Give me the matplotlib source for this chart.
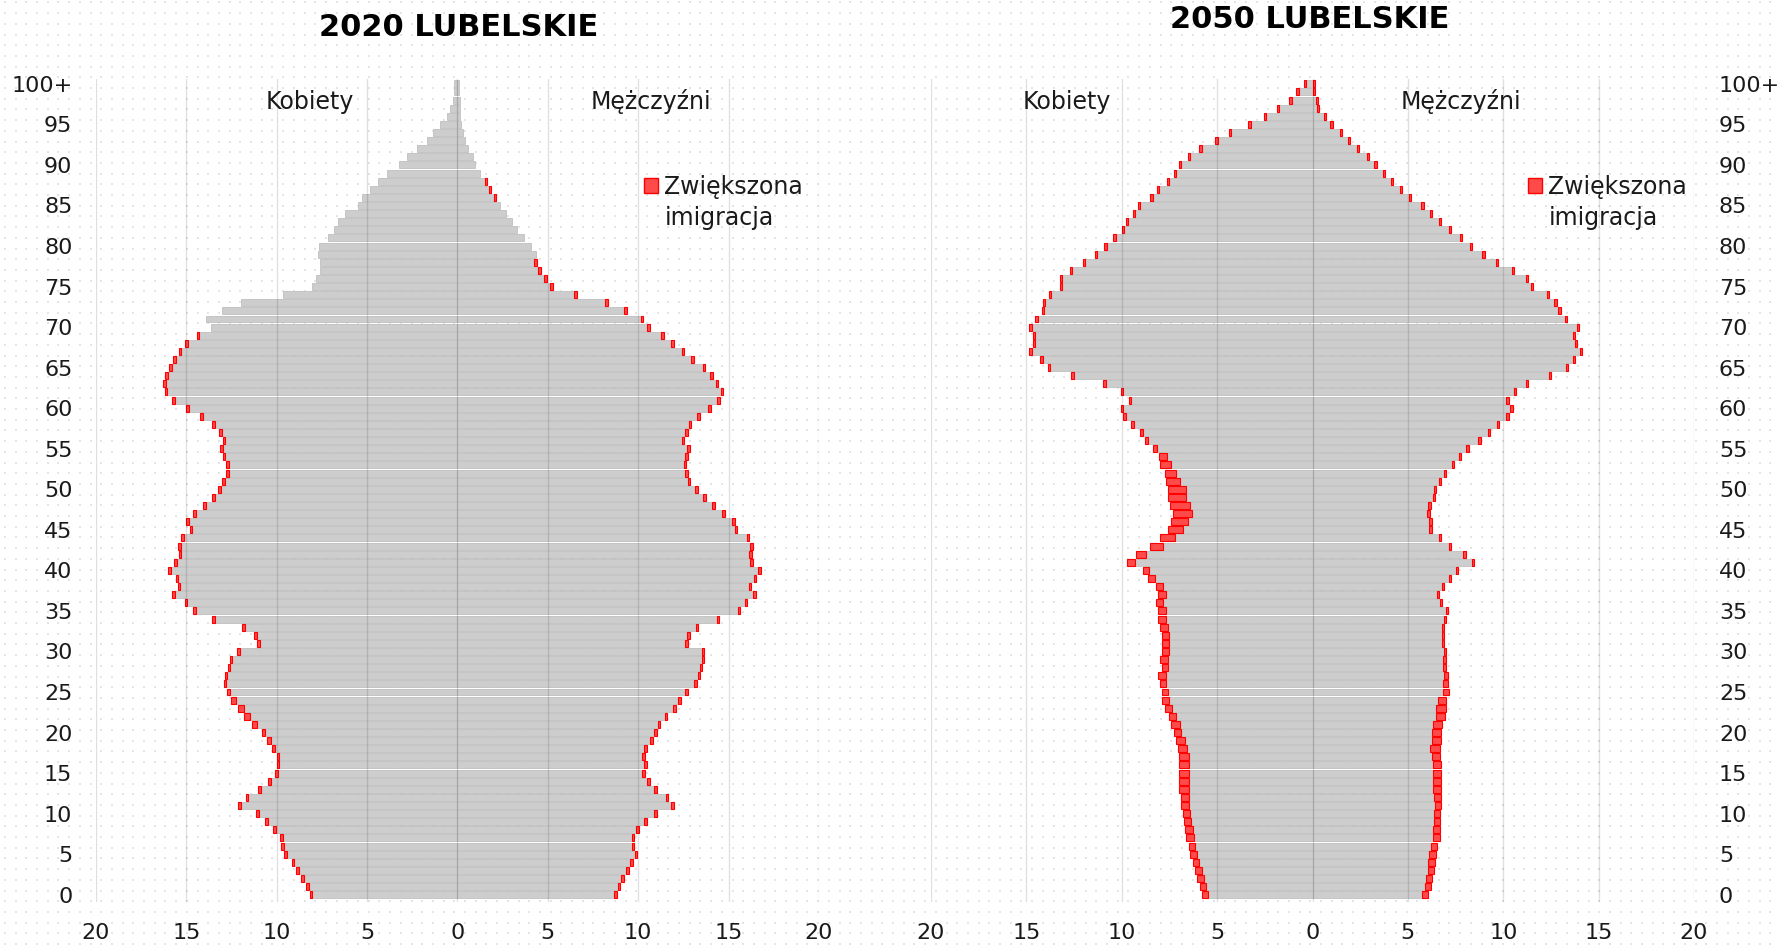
"""
Lubelskie population pyramids, 2020 vs 2050, with the extra
"increased immigration" scenario stacked in red on top of the base bars.
"""

import matplotlib.pyplot as plt
import numpy as np
from matplotlib.patches import Patch

# ─── Data ─────────────────────────────────────────────────────────────────────
AGES = list(range(101))
AGE_TICKS = [0, 5, 10, 15, 20, 25, 30, 35, 40, 45, 50,
             55, 60, 65, 70, 75, 80, 85, 90, 95, 100]
AGE_LABELS = ["0", "5", "10", "15", "20", "25", "30", "35", "40", "45", "50",
              "55", "60", "65", "70", "75", "80", "85", "90", "95", "100+"]
X_TICKS = [-20, -15, -10, -5, 0, 5, 10, 15, 20]
X_LABELS = ["20", "15", "10", "5", "0", "5", "10", "15", "20"]

# outer end of each bar (base + immigration), ages 0 .. 100+
K2020 = [8.18, 8.39, 8.65, 8.93, 9.17, 9.58, 9.77, 9.82, 10.18, 10.65,
         11.15, 12.14, 11.72, 11.04, 10.47, 10.10, 10.00, 10.00, 10.26, 10.52,
         10.83, 11.35, 11.82, 12.14, 12.53, 12.76, 12.94, 12.89, 12.71, 12.60,
         12.19, 11.07, 11.25, 11.93, 13.57, 14.64, 15.10, 15.78, 15.49, 15.60,
         15.99, 15.68, 15.42, 15.47, 15.29, 14.82, 15.03, 14.64, 14.06, 13.59,
         13.23, 13.02, 12.81, 12.79, 13.00, 13.15, 13.00, 13.20, 13.57, 14.22,
         15.00, 15.78, 16.20, 16.28, 16.17, 15.94, 15.73, 15.42, 15.05, 14.43,
         13.65, 13.91, 13.02, 11.98, 9.66, 8.05, 7.84, 7.58, 7.58, 7.73,
         7.68, 7.16, 6.85, 6.59, 6.20, 5.52, 5.31, 4.84, 4.38, 3.91,
         3.23, 2.81, 2.24, 1.67, 1.35, 0.99, 0.60, 0.39, 0.26, 0.21, 0.20]
M2020 = [8.80, 9.01, 9.19, 9.48, 9.69, 9.95, 9.79, 9.79, 10.05, 10.47,
         11.04, 11.98, 11.67, 11.04, 10.63, 10.36, 10.47, 10.36, 10.47, 10.81,
         11.02, 11.22, 11.61, 12.08, 12.37, 12.76, 13.23, 13.44, 13.54, 13.65,
         13.65, 12.76, 12.86, 13.33, 14.48, 15.65, 16.04, 16.51, 16.25, 16.54,
         16.80, 16.35, 16.28, 16.35, 16.15, 15.49, 15.36, 14.79, 14.22, 13.75,
         13.28, 12.89, 12.76, 12.66, 12.76, 12.84, 12.55, 12.76, 12.94, 13.39,
         14.01, 14.51, 14.71, 14.43, 14.11, 13.72, 13.07, 12.55, 11.98, 11.41,
         10.63, 10.29, 9.38, 8.33, 6.61, 5.26, 4.95, 4.61, 4.38, 4.35,
         4.06, 3.67, 3.31, 2.99, 2.71, 2.34, 2.14, 1.85, 1.61, 1.25,
         0.99, 0.86, 0.60, 0.42, 0.29, 0.21, 0.16, 0.13, 0.12, 0.10, 0.10]
K2020_IMM = [0.15, 0.15, 0.15, 0.15, 0.15, 0.15, 0.15, 0.15, 0.15, 0.15,
             0.15, 0.15, 0.15, 0.15, 0.15, 0.15, 0.15, 0.15, 0.15, 0.18,
             0.20, 0.25, 0.32, 0.35, 0.28, 0.18, 0.15, 0.15, 0.15, 0.15,
             0.15, 0.15, 0.15, 0.15, 0.15, 0.15, 0.15, 0.15, 0.15, 0.15,
             0.15, 0.15, 0.15, 0.15, 0.15, 0.15, 0.15, 0.15, 0.15, 0.15,
             0.15, 0.15, 0.15, 0.15, 0.15, 0.15, 0.15, 0.15, 0.15, 0.15,
             0.15, 0.15, 0.15, 0.15, 0.15, 0.15, 0.15, 0.15, 0.15, 0.15,
             0.0, 0.0, 0.0, 0.0, 0.0, 0.0, 0.0, 0.0, 0.0, 0.0,
             0.0, 0.0, 0.0, 0.0, 0.0, 0.0, 0.0, 0.0, 0.0, 0.0,
             0.0, 0.0, 0.0, 0.0, 0.0, 0.0, 0.0, 0.0, 0.0, 0.0, 0.0]
M2020_IMM = [0.15, 0.15, 0.15, 0.15, 0.15, 0.15, 0.15, 0.15, 0.15, 0.15,
             0.15, 0.15, 0.15, 0.15, 0.15, 0.15, 0.15, 0.15, 0.15, 0.15,
             0.15, 0.15, 0.15, 0.15, 0.15, 0.15, 0.15, 0.15, 0.15, 0.15,
             0.15, 0.15, 0.15, 0.15, 0.15, 0.15, 0.15, 0.15, 0.15, 0.15,
             0.15, 0.15, 0.15, 0.15, 0.15, 0.15, 0.15, 0.15, 0.15, 0.15,
             0.15, 0.15, 0.15, 0.15, 0.15, 0.15, 0.15, 0.15, 0.15, 0.15,
             0.15, 0.15, 0.15, 0.15, 0.15, 0.15, 0.15, 0.15, 0.15, 0.15,
             0.15, 0.15, 0.15, 0.15, 0.15, 0.15, 0.15, 0.15, 0.15, 0.0,
             0.0, 0.0, 0.0, 0.0, 0.0, 0.0, 0.10, 0.10, 0.10, 0.0,
             0.0, 0.0, 0.0, 0.0, 0.0, 0.0, 0.0, 0.0, 0.0, 0.0, 0.0]

K2050 = [5.78, 5.91, 6.04, 6.14, 6.27, 6.40, 6.50, 6.61, 6.68, 6.74,
         6.81, 6.92, 6.92, 7.00, 7.00, 7.00, 7.00, 7.00, 7.07, 7.18,
         7.28, 7.44, 7.54, 7.75, 7.90, 7.90, 8.00, 8.08, 7.90, 7.98,
         7.90, 7.90, 7.90, 7.98, 8.08, 8.08, 8.19, 8.08, 8.19, 8.63,
         8.89, 9.72, 9.25, 8.52, 7.98, 7.59, 7.44, 7.33, 7.49, 7.59,
         7.59, 7.69, 7.75, 8.00, 8.06, 8.37, 8.76, 9.02, 9.51, 9.95,
         10.05, 9.61, 10.05, 10.96, 12.64, 13.86, 14.27, 14.84, 14.66, 14.66,
         14.84, 14.53, 14.17, 14.12, 13.81, 13.26, 13.26, 12.72, 12.05, 11.42,
         10.91, 10.44, 10.00, 9.77, 9.43, 9.15, 8.50, 8.16, 7.64, 7.28,
         7.02, 6.55, 5.93, 5.10, 4.38, 3.37, 2.56, 1.87, 1.22, 0.85, 0.44]
M2050 = [6.04, 6.19, 6.24, 6.35, 6.40, 6.45, 6.55, 6.66, 6.66, 6.71,
         6.71, 6.76, 6.76, 6.76, 6.76, 6.76, 6.76, 6.71, 6.66, 6.76,
         6.76, 6.81, 6.94, 6.99, 7.02, 7.15, 7.10, 7.12, 7.02, 6.99,
         6.99, 6.92, 6.92, 6.92, 7.02, 7.10, 6.81, 6.63, 6.92, 7.28,
         7.64, 8.47, 8.03, 7.28, 6.74, 6.24, 6.24, 6.14, 6.19, 6.42,
         6.50, 6.74, 7.02, 7.44, 7.80, 8.19, 8.81, 9.30, 9.77, 10.28,
         10.49, 10.28, 10.67, 11.32, 12.51, 13.39, 13.76, 14.12, 13.86, 13.78,
         13.99, 13.34, 13.01, 12.80, 12.41, 11.58, 11.30, 10.57, 9.72, 9.02,
         8.37, 7.85, 7.25, 6.74, 6.27, 5.83, 5.18, 4.69, 4.22, 3.81,
         3.37, 2.98, 2.46, 1.99, 1.55, 1.06, 0.70, 0.34, 0.28, 0.13, 0.13]
K2050_IMM = [0.31, 0.34, 0.36, 0.36, 0.34, 0.36, 0.36, 0.39, 0.39, 0.39,
             0.41, 0.44, 0.44, 0.52, 0.52, 0.52, 0.52, 0.52, 0.47, 0.47,
             0.41, 0.47, 0.41, 0.41, 0.39, 0.31, 0.31, 0.39, 0.31, 0.39,
             0.39, 0.39, 0.39, 0.39, 0.39, 0.39, 0.34, 0.39, 0.34, 0.39,
             0.31, 0.41, 0.54, 0.67, 0.75, 0.80, 0.93, 1.01, 1.06, 0.98,
             0.98, 0.73, 0.62, 0.57, 0.41, 0.20, 0.15, 0.15, 0.15, 0.15,
             0.12, 0.12, 0.12, 0.12, 0.12, 0.12, 0.12, 0.12, 0.12, 0.12,
             0.12, 0.12, 0.12, 0.12, 0.12, 0.12, 0.12, 0.12, 0.12, 0.12,
             0.12, 0.12, 0.12, 0.12, 0.12, 0.12, 0.12, 0.12, 0.12, 0.12,
             0.12, 0.12, 0.12, 0.12, 0.12, 0.12, 0.12, 0.12, 0.12, 0.12, 0.12]
M2050_IMM = [0.28, 0.30, 0.30, 0.32, 0.32, 0.35, 0.35, 0.35, 0.35, 0.35,
             0.35, 0.35, 0.38, 0.45, 0.45, 0.45, 0.45, 0.45, 0.48, 0.48,
             0.50, 0.50, 0.45, 0.50, 0.45, 0.30, 0.25, 0.25, 0.20, 0.15,
             0.12, 0.12, 0.12, 0.12, 0.12, 0.12, 0.12, 0.12, 0.12, 0.12,
             0.12, 0.12, 0.12, 0.12, 0.12, 0.12, 0.12, 0.12, 0.12, 0.12,
             0.12, 0.12, 0.12, 0.12, 0.12, 0.12, 0.12, 0.12, 0.12, 0.12,
             0.12, 0.12, 0.12, 0.12, 0.12, 0.12, 0.12, 0.12, 0.12, 0.12,
             0.12, 0.12, 0.12, 0.12, 0.12, 0.12, 0.12, 0.12, 0.12, 0.12,
             0.12, 0.12, 0.12, 0.12, 0.12, 0.12, 0.12, 0.12, 0.12, 0.12,
             0.12, 0.12, 0.12, 0.12, 0.12, 0.12, 0.12, 0.12, 0.12, 0.12, 0.12]

# ─── Style ────────────────────────────────────────────────────────────────────
W, H = 1781, 947
GREY, GREY_EDGE = "#cdcdcd", "#b8b8b8"
RED_FILL, RED = "#ff4a4a", "#ff0000"
DOTS = "#e4e4e4"
BAR_H = 0.86
FS = 16

plt.rcParams["font.family"] = ["DejaVu Sans"]


def fx(px):
    return px / W


def fy(px):
    return 1 - px / H


def draw_panel(ax, women, men, women_imm, men_imm):
    ages = np.array(AGES)
    k_imm, m_imm = np.array(women_imm), np.array(men_imm)
    k_base = np.array(women) - k_imm
    m_base = np.array(men) - m_imm

    ax.barh(ages, -k_base, height=BAR_H, color=GREY, edgecolor=GREY_EDGE, lw=0.5)
    ax.barh(ages, m_base, height=BAR_H, color=GREY, edgecolor=GREY_EDGE, lw=0.5)

    # red immigration surplus, only where there is one
    k_on, m_on = k_imm > 0, m_imm > 0
    ax.barh(ages[k_on], -k_imm[k_on], left=-k_base[k_on], height=BAR_H,
            color=RED_FILL, edgecolor=RED, lw=0.8)
    ax.barh(ages[m_on], m_imm[m_on], left=m_base[m_on], height=BAR_H,
            color=RED_FILL, edgecolor=RED, lw=0.8)

    ax.set_xlim(-20, 20)
    ax.set_ylim(-0.9, 100.6)
    ax.set_xticks(X_TICKS, X_LABELS)
    ax.set_yticks(AGE_TICKS, AGE_LABELS)
    ax.grid(axis="x", color="black", alpha=0.12, lw=1.0)
    ax.grid(axis="y", visible=False)
    ax.set_axisbelow(False)
    ax.set_facecolor("none")
    for s in ax.spines.values():
        s.set_visible(False)
    ax.tick_params(length=0, labelsize=FS, colors="#1a1a1a")
    ax.tick_params(axis="x", pad=15)
    ax.tick_params(axis="y", pad=17)


# ─── Figure ───────────────────────────────────────────────────────────────────
fig = plt.figure(figsize=(W / 100, H / 100), dpi=100)
fig.patch.set_facecolor("white")

# dotted paper background
bg = fig.add_axes([0, 0, 1, 1], zorder=-5)
bg.set_xlim(0, W)
bg.set_ylim(0, H)
gx, gy = np.meshgrid(np.arange(5, W, 10.7), np.arange(3, H, 10.7))
bg.scatter(gx.ravel(), gy.ravel(), s=4.0, marker="s", color=DOTS, linewidths=0)
bg.axis("off")

ax1 = fig.add_axes([fx(96), 45 / H, 723 / W, 823 / H])
ax2 = fig.add_axes([fx(931), 45 / H, 763 / W, 823 / H])

draw_panel(ax1, K2020, M2020, K2020_IMM, M2020_IMM)
draw_panel(ax2, K2050, M2050, K2050_IMM, M2050_IMM)
ax2.yaxis.tick_right()
ax2.tick_params(axis="y", pad=18)

# ─── Titles and labels ────────────────────────────────────────────────────────
fig.text(fx(459), fy(28), "2020 LUBELSKIE", ha="center", va="center",
         fontsize=22, fontweight="bold")
fig.text(fx(1310), fy(20), "2050 LUBELSKIE", ha="center", va="center",
         fontsize=22, fontweight="bold")

for cx_k, cx_m in ((310, 651), (1067, 1461)):
    fig.text(fx(cx_k), fy(102), "Kobiety", ha="center", va="center",
             fontsize=17, color="#1a1a1a")
    fig.text(fx(cx_m), fy(102), "Mężczyźni", ha="center", va="center",
             fontsize=17, color="#1a1a1a")

# ─── Legends ──────────────────────────────────────────────────────────────────
for ax, lx in ((ax1, 644), (ax2, 1528)):
    ax.legend(handles=[Patch(facecolor=RED_FILL, edgecolor=RED, label="Zwiększona")],
              loc="center left", bbox_to_anchor=(fx(lx), fy(187)),
              bbox_transform=fig.transFigure, frameon=False, fontsize=17,
              handlelength=0.6, handleheight=0.6, handletextpad=0.25,
              borderpad=0, borderaxespad=0, labelcolor="#1a1a1a")
    fig.text(fx(lx + 21), fy(218), "imigracja", ha="left", va="center",
             fontsize=17, color="#1a1a1a")

fig.savefig("out.png", dpi=100, facecolor="white")
